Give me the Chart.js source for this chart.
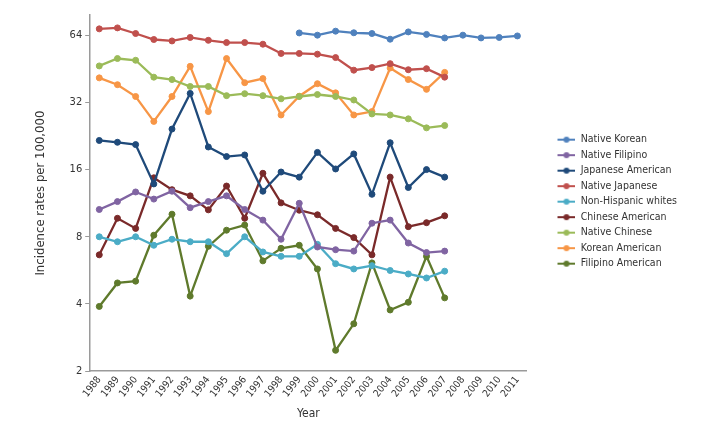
<!DOCTYPE html>
<html>
<head>
<meta charset="utf-8">
<script src="https://cdn.jsdelivr.net/npm/chart.js@4.4.1/dist/chart.umd.min.js"></script>
<style>
  html, body { margin: 0; padding: 0; background: #fff; }
  #wrap { width: 706px; height: 427px; }
</style>
</head>
<body>
<div id="wrap"><canvas id="chart" width="706" height="427"></canvas></div>
<script>
// ===== Data =====
const years = ['1988','1989','1990','1991','1992','1993','1994','1995','1996','1997','1998','1999',
               '2000','2001','2002','2003','2004','2005','2006','2007','2008','2009','2010','2011'];
const yTicks = [2, 4, 8, 16, 32, 64];

const nativeKorean = [null, null, null, null, null, null, null, null, null, null, null,
                      65.5, 64, 66.7, 65.6, 65.1, 61.4, 66.2, 64.5, 62.2, 64, 62.2, 62.5, 63.5];
const nativeFilipino = [10.6, 11.5, 12.7, 11.8, 12.8, 10.8, 11.5, 12.2, 10.6, 9.5, 7.8, 11.3,
                        7.2, 7.0, 6.9, 9.2, 9.5, 7.5, 6.8, 6.9];
const japaneseAmerican = [21.6, 21.2, 20.7, 13.8, 24.3, 35.1, 20.2, 18.3, 18.6, 12.8, 15.6, 14.8,
                          19.1, 16.1, 18.8, 12.4, 21.1, 13.3, 16.0, 14.8];
const nativeJapanese = [68.3, 69, 65.1, 61.2, 60.3, 62.5, 60.7, 59.3, 59.3, 58.3, 53.0, 53.0,
                        52.6, 50.8, 44.6, 45.8, 47.7, 44.8, 45.3, 41.5];
const nonHispanicWhites = [8.0, 7.6, 8.0, 7.33, 7.8, 7.6, 7.6, 6.72, 8.0, 6.84, 6.54, 6.54,
                           7.4, 6.06, 5.74, 5.94, 5.65, 5.45, 5.23, 5.61];
const chineseAmerican = [6.64, 9.68, 8.72, 14.7, 13.0, 12.2, 10.56, 13.5, 9.68, 15.4, 11.35, 10.52,
                         10.04, 8.72, 7.93, 6.64, 14.8, 8.88, 9.25, 9.93];
const nativeChinese = [46.6, 50.3, 49.4, 41.5, 40.5, 37.7, 37.7, 34.3, 35.0, 34.3, 33.2, 34.0,
                       34.7, 34.0, 32.8, 28.4, 28.1, 27.0, 24.6, 25.2];
const koreanAmerican = [41.2, 38.4, 34.0, 26.3, 34.0, 46.4, 29.1, 50.3, 39.2, 40.9, 28.1, 34.1,
                        38.8, 35.3, 28.1, 29.1, 45.6, 40.5, 36.6, 43.6];
const filipinoAmerican = [3.9, 4.97, 5.06, 8.13, 10.1, 4.34, 7.25, 8.56, 9.03, 6.24, 7.1, 7.33,
                          5.74, 2.48, 3.26, 6.11, 3.76, 4.07, 6.54, 4.26];

const seriesNames = ['Native Korean', 'Native Filipino', 'Japanese American', 'Native Japanese',
                     'Non-Hispanic whites', 'Chinese American', 'Native Chinese', 'Korean American',
                     'Filipino American'];
const seriesData = [nativeKorean, nativeFilipino, japaneseAmerican, nativeJapanese, nonHispanicWhites,
                    chineseAmerican, nativeChinese, koreanAmerican, filipinoAmerican];
const seriesColors = ['#4f81bd', '#8064a2', '#1f4a7a', '#c0504d', '#4bacc6',
                      '#7a2a2a', '#9bbb59', '#f79646', '#5f7a2c'];

const FONT = "'Liberation Sans Narrow', 'Arial Narrow', 'DejaVu Sans Condensed', sans-serif";
const TEXT = '#333';
const AXIS = '#9a9a9a';

// legend marker: a short line with a dot, pushed to the right of a wider box
function legendMarker(color) {
  const c = document.createElement('canvas');
  c.width = 44; c.height = 8;
  const g = c.getContext('2d');
  g.strokeStyle = color; g.lineWidth = 2;
  g.beginPath(); g.moveTo(26, 4); g.lineTo(44, 4); g.stroke();
  g.fillStyle = color;
  g.beginPath(); g.arc(35, 4, 3, 0, Math.PI * 2); g.fill();
  return c;
}

const datasets = seriesNames.map((name, i) => ({
  label: name,
  data: seriesData[i],
  borderColor: seriesColors[i],
  backgroundColor: seriesColors[i],
  pointBackgroundColor: seriesColors[i],
  pointBorderColor: seriesColors[i],
  borderWidth: 2.3,
  pointRadius: 3,
  pointBorderWidth: 1,
  tension: 0,
  spanGaps: false
}));

new Chart(document.getElementById('chart'), {
  type: 'line',
  data: { labels: years, datasets },
  options: {
    responsive: false,
    animation: false,
    layout: { padding: { left: 20, right: 19, top: 15, bottom: 2 } },
    plugins: {
      tooltip: { enabled: false },
      legend: {
        position: 'right',
        fullSize: false,
        align: 'center',
        title: { display: true, text: '', padding: { top: 8, bottom: 8 }, font: { size: 1 } },
        labels: {
          usePointStyle: true,
          pointStyleWidth: 44,
          padding: 5,
          color: TEXT,
          font: { family: FONT, size: 10.5 },
          generateLabels(chart) {
            return Chart.defaults.plugins.legend.labels.generateLabels(chart).map(item => {
              item.pointStyle = legendMarker(seriesColors[item.datasetIndex]);
              return item;
            });
          }
        }
      }
    },
    scales: {
      x: {
        offset: true,
        grid: { display: false, drawTicks: false },
        border: { display: true, color: AXIS, width: 1.5 },
        ticks: { color: TEXT, font: { family: FONT, size: 10 }, minRotation: 52, maxRotation: 52, padding: 3, autoSkip: false },
        title: { display: true, text: 'Year', color: TEXT, font: { family: FONT, size: 12 }, padding: { top: 4, bottom: 4 } }
      },
      y: {
        type: 'logarithmic',
        min: 2,
        max: 78.8,
        afterBuildTicks: axis => { axis.ticks = yTicks.map(v => ({ value: v })); },
        grid: { drawOnChartArea: false, drawTicks: true, tickLength: 5, color: AXIS },
        border: { display: true, color: AXIS, width: 1.5 },
        ticks: { color: TEXT, font: { family: FONT, size: 11 }, padding: 3, callback: v => String(v) },
        title: { display: true, text: 'Incidence rates per 100,000', color: TEXT,
                 font: { family: FONT, size: 13 }, padding: { top: 13, bottom: 18 } }
      }
    }
  }
});
</script>
</body>
</html>
